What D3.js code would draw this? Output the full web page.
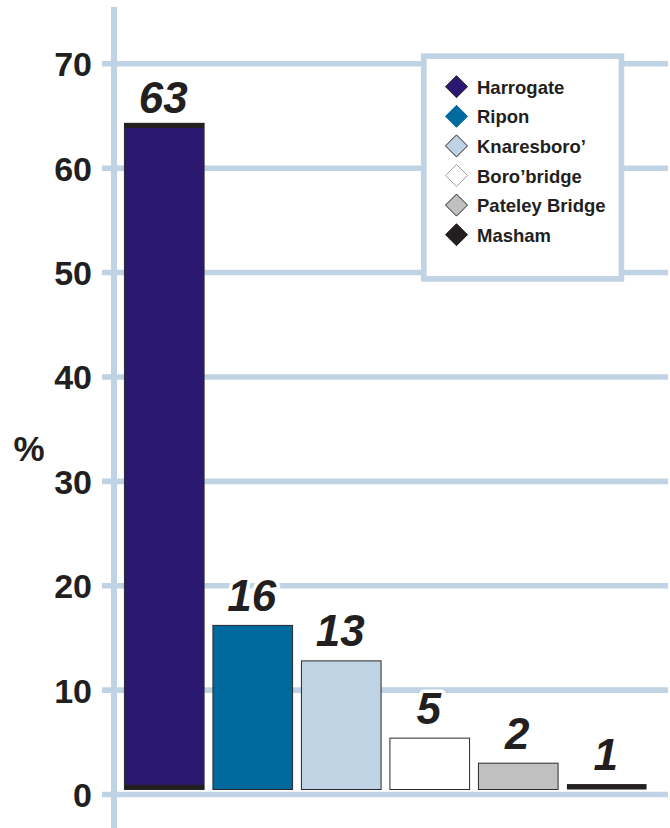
<!DOCTYPE html>
<html>
<head>
<meta charset="utf-8">
<script src="https://cdn.jsdelivr.net/npm/d3@7"></script>
<style>
  html, body { margin: 0; padding: 0; background: #fff; }
  svg { display: block; }
  text { font-family: "Liberation Sans", Arial, sans-serif; fill: #231f20; }
</style>
</head>
<body>
<svg id="chart" width="670" height="828"></svg>
<script>
// ---- data ----
const categories = ["Harrogate", "Ripon", "Knaresboro\u2019", "Boro\u2019bridge", "Pateley Bridge", "Masham"];
const values = [64.3, 16.2, 12.8, 5.4, 3.0, 1.0];
const valueLabels = ["63", "16", "13", "5", "2", "1"];
const colors = ["#2b1870", "#006a9e", "#bfd3e4", "#ffffff", "#c0c0c0", "#231f20"];
const legendStrokes = ["#231f20", "#006a9e", "#231f20", "#a0a0a0", "#231f20", "#231f20"];
const yTicks = [0, 10, 20, 30, 40, 50, 60, 70];
const yTitle = "%";

// ---- layout ----
const svg = d3.select("#chart");
const gridColor = "#bfd3e4";
const y = d3.scaleLinear().domain([0, 70]).range([794.5, 63.8]);
const x = d3.scaleBand().domain(categories).range([120, 651]).paddingInner(0.1).paddingOuter(0.05);
const baseY = y(0) - 5;

// gridlines
svg.append("g").selectAll("line").data(yTicks).join("line")
  .attr("x1", 102).attr("x2", 668)
  .attr("y1", d => y(d)).attr("y2", d => y(d))
  .attr("stroke", gridColor).attr("stroke-width", 5.6);

// vertical axis line
svg.append("line")
  .attr("x1", 114).attr("x2", 114).attr("y1", 7).attr("y2", 828)
  .attr("stroke", gridColor).attr("stroke-width", 6);

// tick labels
svg.append("g").selectAll("text").data(yTicks).join("text")
  .attr("x", 92).attr("y", d => y(d) + 12.5)
  .attr("text-anchor", "end")
  .attr("font-size", 34).attr("font-weight", "bold")
  .text(d => d);

// y title
svg.append("text").attr("x", 29).attr("y", 461)
  .attr("text-anchor", "middle").attr("font-size", 35).attr("font-weight", "bold")
  .text(yTitle);

// bars
const bars = svg.append("g");
categories.forEach((c, i) => {
  const top = y(values[i]);
  bars.append("rect")
    .attr("x", x(c)).attr("y", top)
    .attr("width", x.bandwidth()).attr("height", baseY - top)
    .attr("fill", colors[i])
    .attr("stroke", i === 5 ? "none" : "#2a2a2a").attr("stroke-width", 1);
  if (i === 0) {
    // dark caps on the tall bar
    bars.append("rect").attr("x", x(c)).attr("y", top)
      .attr("width", x.bandwidth()).attr("height", 4.7).attr("fill", "#231f20");
    bars.append("rect").attr("x", x(c)).attr("y", baseY - 4.7)
      .attr("width", x.bandwidth()).attr("height", 4.7).attr("fill", "#231f20");
  }
});

// value labels
svg.append("g").selectAll("text").data(categories).join("text")
  .attr("x", d => x(d) + x.bandwidth() / 2 - 1)
  .attr("y", (d, i) => y(values[i]) - (i === 0 ? 10 : 14.5))
  .attr("text-anchor", "middle")
  .attr("font-size", 44).attr("font-weight", "bold").attr("font-style", "italic")
  .attr("stroke", "#fff").attr("stroke-width", 7).attr("stroke-linejoin", "round")
  .attr("paint-order", "stroke")
  .text((d, i) => valueLabels[i]);

// legend
const lg = svg.append("g");
lg.append("rect").attr("x", 423.8).attr("y", 56.1).attr("width", 197.6).attr("height", 222.8)
  .attr("fill", "#fff").attr("stroke", gridColor).attr("stroke-width", 5.6);
const rowY = i => 86.7 + i * 29.6;
categories.forEach((c, i) => {
  const cy = rowY(i), cx = 456.5, r = 11;
  lg.append("path")
    .attr("d", `M${cx},${cy - r}L${cx + r},${cy}L${cx},${cy + r}L${cx - r},${cy}Z`)
    .attr("fill", colors[i]).attr("stroke", legendStrokes[i]).attr("stroke-width", 1);
  lg.append("text").attr("x", 477).attr("y", cy + 7)
    .attr("font-size", 18.5).attr("font-weight", "bold").text(c);
});
</script>
</body>
</html>
